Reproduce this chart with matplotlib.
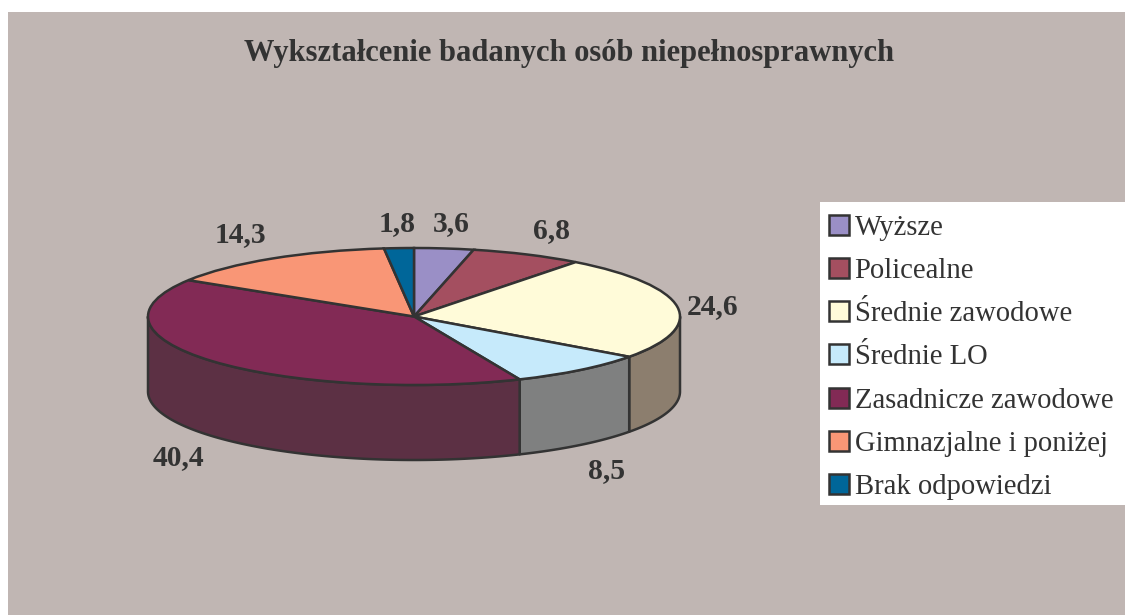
import numpy as np
import matplotlib
matplotlib.use("Agg")
import matplotlib.pyplot as plt
from matplotlib.patches import Rectangle

title = "Wykształcenie badanych osób niepełnosprawnych"
categories = ["Wyższe", "Policealne", "Średnie zawodowe", "Średnie LO",
              "Zasadnicze zawodowe", "Gimnazjalne i poniżej", "Brak odpowiedzi"]
values = [3.6, 6.8, 24.6, 8.5, 40.4, 14.3, 1.8]
top_colors = ["#9A8FC6", "#A44F60", "#FFFBD9", "#C6EAFB", "#822A55", "#F99676", "#006699"]
side_colors = ["#6F6788", "#76414C", "#8C7E6E", "#7F8080", "#5C3044", "#A8705C", "#1D506B"]
label_px = [(451, 224), (551, 231), (713, 307), (607, 471), (178, 458), (240, 235), (397, 224)]

W, H = 1125, 615
INK = "#333333"
BG = "#C0B6B3"
fig = plt.figure(figsize=(W / 100, H / 100), dpi=100, facecolor="white")
plt.rcParams["font.family"] = ["Liberation Serif", "DejaVu Serif"]

def fx(x): return x / W
def fy(y): return 1 - y / H

fig.patches.append(Rectangle((fx(8), 0), 1 - fx(8), fy(12), transform=fig.transFigure,
                             facecolor=BG, edgecolor="none", zorder=-5))
fig.patches.append(Rectangle((fx(820), fy(505)), 1 - fx(820), fy(202) - fy(505), transform=fig.transFigure,
                             facecolor="white", edgecolor="none", zorder=-4))

# pie axes: unit ellipse plus wall depth
cx, cy, a, b, depth = 414, 316.5, 266, 68.5, 75
ax = fig.add_axes([fx(cx - a), fy(cy + b + depth), 2 * a / W, (2 * b + depth) / H])
wedges, _ = ax.pie(values, startangle=90, counterclock=False, radius=1,
                   colors=top_colors,
                   wedgeprops=dict(edgecolor=INK, linewidth=1.8, zorder=3, clip_on=False))
ax.set_aspect("auto")
ax.set_xlim(-1, 1)
ax.set_ylim(-1 - depth / b, 1)
ax.axis("off")

# side walls from the same values
shift = depth / b
edges = 90 - 3.6 * np.concatenate([[0], np.cumsum(values)])
for hi, lo, col in zip(edges[:-1], edges[1:], side_colors):
    s, e = max(lo, -180), min(hi, 0)
    if e <= s:
        continue
    t = np.radians(np.linspace(s, e, 120))
    xs = np.cos(t)
    ys = np.sin(t)
    ax.fill(np.r_[xs, xs[::-1]], np.r_[ys, ys[::-1] - shift], facecolor=col,
            edgecolor=INK, linewidth=1.8, zorder=2, clip_on=False, joinstyle="round")

# value labels
for v, (x, y) in zip(values, label_px):
    fig.text(fx(x), fy(y), f"{v:.1f}".replace(".", ","), ha="center", va="center",
             fontsize=21.3, fontweight="bold", color=INK)

fig.text(fx(569.5), fy(53), title, ha="center", va="center",
         fontsize=22, fontweight="bold", color=INK)

fs = 20.6
leg = fig.legend(wedges, categories, loc="upper left",
                 bbox_to_anchor=(fx(820), fy(206)), bbox_transform=fig.transFigure,
                 frameon=False, fontsize=fs, labelcolor=INK, borderaxespad=0,
                 borderpad=0.31, handlelength=0.7, handleheight=0.7,
                 handletextpad=0.2, labelspacing=0.6)

fig.savefig("out.png", dpi=100, facecolor="white")
